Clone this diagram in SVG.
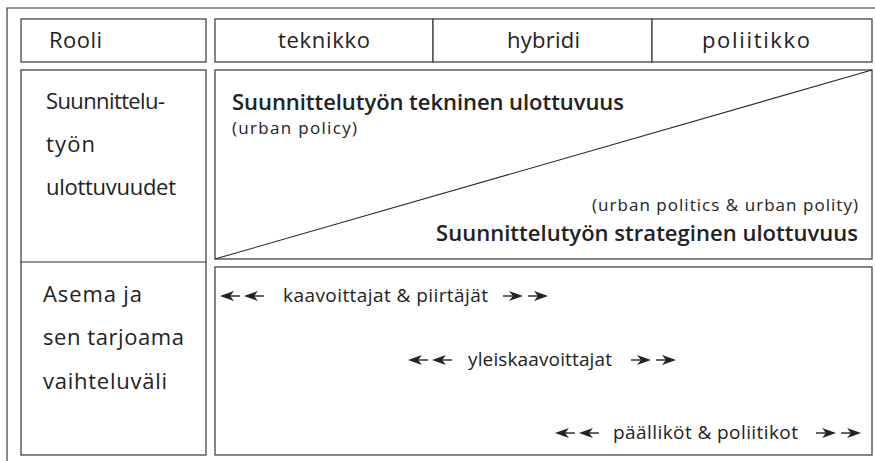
<svg xmlns="http://www.w3.org/2000/svg" xmlns:xlink="http://www.w3.org/1999/xlink" width="875" height="461" viewBox="0 0 875 461">
<style>
.box{fill:#fff;stroke:#444;stroke-width:1.3}
.ln{fill:none;stroke:#2a2a2a;stroke-width:1.1}
text{font-family:"Open Sans","Noto Sans","Liberation Sans",sans-serif;fill:#222}
.h{font-size:22px}
.l{font-size:22px}
.b{font-size:22px;font-weight:600}
.p{font-size:17px}
.a{font-size:19px}
.arr{fill:#222;stroke:#222;stroke-width:1.4}
</style>
<defs>
<g id="arL">
<path d="M0,0 L14,-5 L10,0 L14,5 Z" stroke="none"/>
<line x1="9" y1="0" x2="20" y2="0"/>
</g>
<g id="arR">
<path d="M0,0 L-14,-5 L-10,0 L-14,5 Z" stroke="none"/>
<line x1="-9" y1="0" x2="-20" y2="0"/>
</g>
</defs>
<rect width="875" height="461" fill="#fff"/>
<path class="ln" d="M7,461 V8 H875"/>

<g id="rooli"><rect class="box" x="21" y="19" width="185" height="43"/><text class="h" x="49" y="48" textLength="53">Rooli</text></g>
<g id="teknikko"><rect class="box" x="215" y="19" width="218" height="43"/><text class="h" x="278" y="48" textLength="92">teknikko</text></g>
<g id="hybridi"><rect class="box" x="433" y="19" width="219" height="43"/><text class="h" x="507" y="48" textLength="73">hybridi</text></g>
<g id="poliitikko"><rect class="box" x="652" y="19" width="220" height="43"/><text class="h" x="702" y="48" textLength="108">poliitikko</text></g>

<g id="leftcol">
<rect class="box" x="21" y="70" width="185" height="385"/>
<line class="ln" x1="21" y1="262" x2="206" y2="262"/>
<text class="l" x="46" y="109" textLength="119">Suunnittelu-</text>
<text class="l" x="46" y="152" textLength="49">työn</text>
<text class="l" x="46" y="195" textLength="130">ulottuvuudet</text>
<text class="l" x="43" y="302" textLength="99">Asema ja</text>
<text class="l" x="43" y="345" textLength="141">sen tarjoama</text>
<text class="l" x="43" y="389" textLength="124">vaihteluväli</text>
</g>

<g id="ulottuvuus">
<rect class="box" x="215" y="70" width="657" height="189"/>
<line class="ln" x1="215" y1="259" x2="872" y2="70"/>
<text class="b" x="232" y="110" textLength="392">Suunnittelutyön tekninen ulottuvuus</text>
<text class="p" x="232" y="134" textLength="125">(urban policy)</text>
<text class="p" x="592" y="211" textLength="266">(urban politics &amp; urban polity)</text>
<text class="b" x="436" y="241" textLength="422">Suunnittelutyön strateginen ulottuvuus</text>
</g>

<g id="asema">
<rect class="box" x="215" y="267" width="657" height="188"/>
<text class="a" x="283" y="302" textLength="205">kaavoittajat &amp; piirtäjät</text>
<text class="a" x="468" y="366" textLength="144">yleiskaavoittajat</text>
<text class="a" x="613" y="439" textLength="185">päälliköt &amp; poliitikot</text>
</g>

<g id="connectors" class="arr">
<use xlink:href="#arL" x="220" y="296"/><use xlink:href="#arL" x="244" y="296"/>
<use xlink:href="#arR" x="523" y="296"/><use xlink:href="#arR" x="548" y="296"/>
<use xlink:href="#arL" x="408" y="360"/><use xlink:href="#arL" x="432" y="360"/>
<use xlink:href="#arR" x="651" y="360"/><use xlink:href="#arR" x="676" y="360"/>
<use xlink:href="#arL" x="555" y="433"/><use xlink:href="#arL" x="579" y="433"/>
<use xlink:href="#arR" x="836" y="433"/><use xlink:href="#arR" x="861" y="433"/>
</g>
</svg>
